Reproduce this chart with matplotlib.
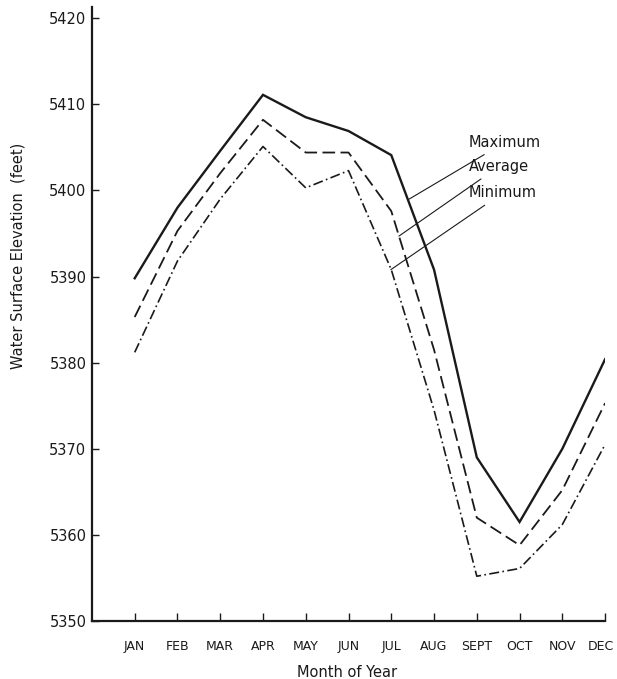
import numpy as np
import matplotlib.pyplot as plt
import matplotlib.transforms as mtransforms

months = ['JAN', 'FEB', 'MAR', 'APR', 'MAY', 'JUN',
          'JUL', 'AUG', 'SEPT', 'OCT', 'NOV', 'DEC']
maximum = [5389.8, 5398.0, 5404.6, 5411.1, 5408.5, 5406.9,
           5404.1, 5390.8, 5369.0, 5361.5, 5370.0, 5380.4]
average = [5385.3, 5395.3, 5402.0, 5408.2, 5404.4, 5404.4,
           5397.6, 5381.5, 5362.0, 5358.8, 5365.2, 5375.3]
minimum = [5381.2, 5391.8, 5399.0, 5405.1, 5400.3, 5402.3,
           5390.8, 5374.5, 5355.2, 5356.1, 5361.2, 5370.5]
yticks = np.arange(5350, 5421, 10)

x = np.arange(1, 13)
ink = '#1a1a1a'

fig = plt.figure(figsize=(6.17, 6.79), dpi=100)
ax = fig.add_axes([0.149, 0.0854, 0.8317, 0.9043])

ax.plot(x, maximum, color=ink, lw=1.7, solid_joinstyle='miter')
ax.plot(x, average, color=ink, lw=1.3, dashes=(7, 3))
ax.plot(x, minimum, color=ink, lw=1.2, dashes=(6, 2, 1, 2))

# labels with leader lines
lbl = dict(fontsize=10.5, color=ink, va='center', ha='left')
arrow = dict(arrowstyle='-', lw=0.8, color=ink, shrinkA=3, shrinkB=0)
ax.annotate('Maximum', xy=(7.42, 5399.0), xytext=(8.82, 5405.6),
            arrowprops=arrow, **lbl)
ax.annotate('Average', xy=(7.18, 5394.7), xytext=(8.82, 5402.8),
            arrowprops=arrow, **lbl)
ax.annotate('Minimum', xy=(6.99, 5390.8), xytext=(8.82, 5399.75),
            arrowprops=arrow, **lbl)

ax.set_xlim(0, 12)
ax.set_ylim(5350, 5421.3)
ax.set_xticks(x)
ax.set_xticklabels(months)
ax.set_yticks(yticks)

for s in ['top', 'right']:
    ax.spines[s].set_visible(False)
for s in ['left', 'bottom']:
    ax.spines[s].set_linewidth(1.6)
    ax.spines[s].set_color(ink)

ax.tick_params(axis='x', direction='in', length=6, width=1, pad=14,
               labelsize=9, colors=ink)
ax.tick_params(axis='y', direction='in', length=5, width=1, pad=4,
               labelsize=10.5, colors=ink)

# last month label sits at the figure edge, nudge it in a little
last = ax.get_xticklabels()[-1]
last.set_transform(last.get_transform() +
                   mtransforms.ScaledTranslation(-3 / 72, 0, fig.dpi_scale_trans))

ax.set_xlabel('Month of Year', fontsize=10.5, color=ink)
ax.xaxis.set_label_coords(0.497, -0.072)
ax.set_ylabel('Water Surface Elevation  (feet)', fontsize=10.5, color=ink)
ax.yaxis.set_label_coords(-0.13, 0.595)

fig.savefig('out.png', dpi=100)
